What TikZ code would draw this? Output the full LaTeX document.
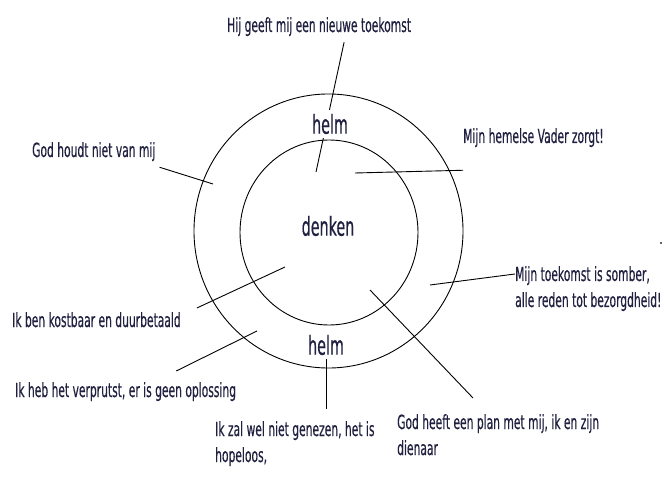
\documentclass[tikz,border=0pt]{standalone}
\usepackage{fontspec}
\setmainfont{DejaVu Sans}[FakeStretch=0.55, FakeBold=0.4]
\definecolor{penink}{HTML}{202040}
\tikzset{
  saying/.style={anchor=base west, inner sep=0pt, text=penink, align=left,
    font=\fontsize{19.5}{26}\selectfont},
  ringword/.style={text=penink, inner sep=4pt, font=\fontsize{26}{28}\selectfont},
  stroke/.style={line width=0.9pt, black}
}
\begin{document}
\begin{tikzpicture}[x=1pt, y=-1pt]
\useasboundingbox (0,0) rectangle (665,492);

% The two rings
\draw[stroke] (328.5,231) ellipse [x radius=134.5, y radius=137];
\draw[stroke] (329,232.5) ellipse [x radius=89, y radius=92.5];
\node[ringword] (denk) at (328,226) {denken};

% The sayings round the rings
\node[saying] (hij) at (227,32) {Hij geeft mij een nieuwe toekomst};
\node[saying] (nietlief) at (32,157) {God houdt niet van mij};
\node[saying] (vader) at (463,143) {Mijn hemelse Vader zorgt!};
\node[saying] (kost) at (12,327) {Ik ben kostbaar en duurbetaald};
\node[saying] (verprutst) at (15,397) {Ik heb het verprutst, er is geen oplossing};
\node[saying] (somber) at (515,307) {Mijn toekomst is somber,\\alle reden tot bezorgdheid!};
\node[saying] (genezen) at (215,462) {Ik zal wel niet genezen, het is\\hopeloos,};
\node[saying] (plan) at (397,455) {God heeft een plan met mij, ik en zijn\\dienaar};

% Inner ends of the lines
\coordinate (inHij) at (316,172);
\coordinate (inNiet) at (213,184);
\coordinate (inVader) at (355,173);
\coordinate (inKost) at (285,267);
\coordinate (inVerpr) at (257,331);
\coordinate (inSomber) at (430,285);
\coordinate (inPlan) at (370,290);

\draw[stroke] ([shift={(25,6)}]hij.south) -- (inHij);
\draw[stroke] ([shift={(4,6)}]nietlief.south east) -- (inNiet);
\draw[stroke] ([shift={(0,23)}]vader.south west) -- (inVader);
\draw[stroke] ([shift={(16,-4)}]kost.north east) -- (inKost);
\draw[stroke] ([shift={(-60,-11)}]verprutst.north east) -- (inVerpr);
\draw[stroke] ([shift={(0,8)}]somber.north west) -- (inSomber);
\draw[stroke] ([shift={(76,-16)}]plan.north west) -- (inPlan);

% helm, on top of the rings
\node[ringword, fill=white] (helmtop) at (330,124) {helm};
\node[ringword] (helmbot) at (326,345) {helm};
\draw[stroke] (helmbot.south) -- ([yshift=12pt]helmbot.south |- genezen.north);

% stray speck at the right edge
\fill[black!60] (660,242) rectangle (662,244);
\end{tikzpicture}
\end{document}
